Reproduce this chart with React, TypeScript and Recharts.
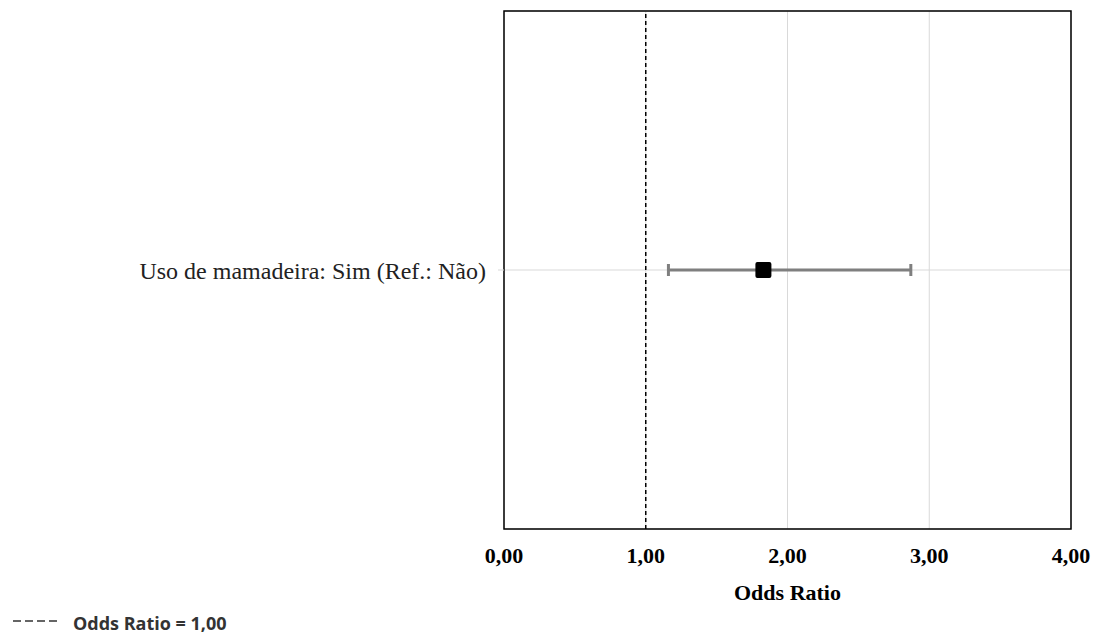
import { ScatterChart, Scatter, XAxis, YAxis, CartesianGrid, ErrorBar, ReferenceLine, ReferenceArea } from "recharts";

const categories = ["Uso de mamadeira: Sim (Ref.: Não)"];
const oddsRatios = [1.83];
const lowerCI = [1.16];
const upperCI = [2.87];
const xTicks = [0, 1, 2, 3, 4];

const data = categories.map((label, i) => ({
  label,
  or: oddsRatios[i],
  ci: [oddsRatios[i] - lowerCI[i], upperCI[i] - oddsRatios[i]],
}));

const serif = "'Liberation Serif', 'Times New Roman', serif";
const fmt = (v: number) => v.toFixed(2).replace(".", ",");

// black square marker, ~16px
const SquareDot = (props: any) => {
  const { cx, cy } = props;
  return <rect x={cx - 8} y={cy - 8} width={16} height={16} rx={2} fill="#000" />;
};

export default function App() {
  return (
    <div style={{ position: "absolute", left: 0, top: 0, width: 1094, height: 633, background: "#fff" }}>
      <ScatterChart width={1094} height={633} margin={{ top: 11, right: 23, left: 104, bottom: 28 }}>
        <CartesianGrid stroke="#d9d9d9" strokeWidth={1} />
        <XAxis
          type="number"
          dataKey="or"
          domain={[0, 4]}
          ticks={xTicks}
          tickFormatter={fmt}
          axisLine={false}
          tickLine={false}
          tickMargin={12}
          height={76}
          tick={{ fontSize: 22, fontWeight: "bold", fill: "#000", fontFamily: serif }}
          label={{ value: "Odds Ratio", position: "insideBottom", offset: 5, fontSize: 22, fontWeight: "bold", fill: "#000", fontFamily: serif }}
        />
        <YAxis
          type="category"
          dataKey="label"
          width={400}
          axisLine={false}
          tickLine={{ stroke: "#d9d9d9" }}
          tickSize={6}
          tickMargin={12}
          tick={{ fontSize: 24, fill: "#222", fontFamily: serif }}
        />
        <ReferenceLine x={1} stroke="#000" strokeWidth={1.5} strokeDasharray="4 3" ifOverflow="visible" />
        <ReferenceArea x1={0} x2={4} fill="none" fillOpacity={0} stroke="#000" strokeWidth={1.5} ifOverflow="visible" />
        <Scatter data={data} shape={SquareDot} isAnimationActive={false}>
          <ErrorBar dataKey="ci" direction="x" width={6} stroke="#7f7f7f" strokeWidth={3} />
        </Scatter>
      </ScatterChart>
      <div style={{ position: "absolute", left: 13, top: 611, display: "flex", alignItems: "center" }}>
        <svg width={48} height={14}>
          <line x1={0} y1={5} x2={47} y2={5} stroke="#333" strokeWidth={1.3} strokeDasharray="8 4" />
        </svg>
        <span style={{ marginLeft: 12, fontFamily: "'Open Sans', sans-serif", fontWeight: "bold", fontSize: 18, color: "#333" }}>
          Odds Ratio = 1,00
        </span>
      </div>
    </div>
  );
}
